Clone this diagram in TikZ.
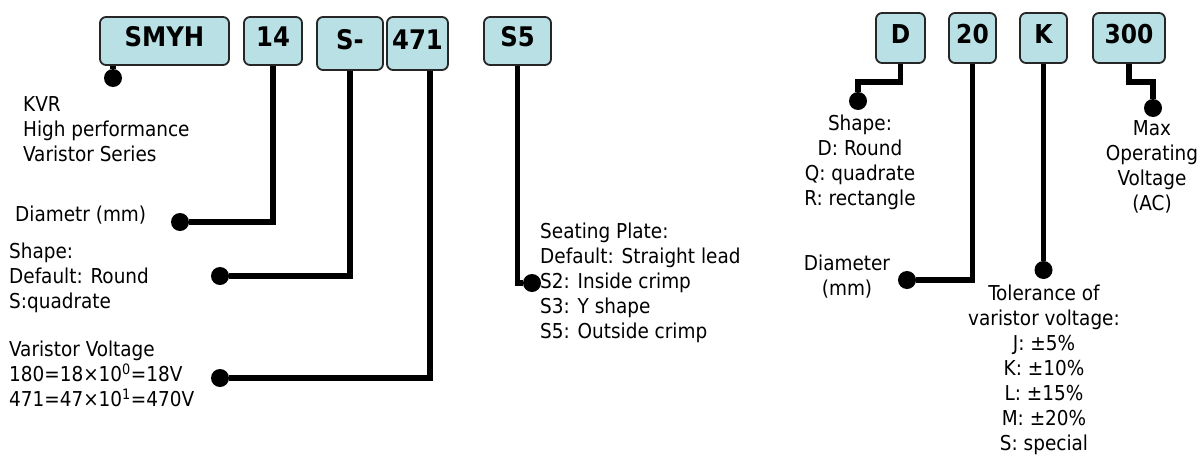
\documentclass[tikz,border=0pt]{standalone}
\usepackage{fontspec}
\setmainfont{DejaVu Sans Condensed}
\begin{document}
\begin{tikzpicture}[x=1pt,y=-1pt,
  codebox/.style={draw=black!85,line width=1.8pt,rounded corners=6pt,fill=boxfill,
    inner sep=0pt,text height=18pt,text depth=7pt,font=\fontsize{27}{30}\selectfont\bfseries},
  codeboxr/.style={codebox,font=\fontsize{26}{30}\selectfont\bfseries},
  conn/.style={line width=5.5pt},
  dot/.style={circle,fill=black,inner sep=0pt,minimum size=18pt},
  desc/.style={inner sep=0pt,font=\fontsize{20.5}{25}\selectfont}]
\definecolor{boxfill}{RGB}{185,224,228}
\useasboundingbox (0,0) rectangle (1201,458);
% code boxes left
\node[codebox,minimum width=129pt,minimum height=48pt] (bSMYH) at (164.5,41) {SMYH};
\node[codebox,minimum width=58pt,minimum height=48pt] (b14) at (273,41) {14};
\node[codebox,minimum width=66pt,minimum height=53pt] (bS) at (350,43.5) {S-};
\node[codebox,minimum width=61pt,minimum height=53pt] (b471) at (417.5,43.5) {471};
\node[codebox,minimum width=67pt,minimum height=48pt] (bS5) at (517.5,41) {S5};
% code boxes right
\node[codeboxr,minimum width=49pt,minimum height=50pt] (bD) at (900.5,38) {D};
\node[codeboxr,minimum width=47pt,minimum height=50pt] (b20) at (972.5,38) {20};
\node[codeboxr,minimum width=47pt,minimum height=50pt] (bK) at (1043.5,38) {K};
\node[codeboxr,minimum width=72pt,minimum height=50pt] (b300) at (1129,38) {300};
% dots
\node[dot] (d1) at (113,78) {};
\node[dot] (d2) at (180,222) {};
\node[dot] (d3) at (220,276) {};
\node[dot] (d4) at (220,378) {};
\node[dot] (d5) at (532,283) {};
\node[dot] (d6) at (858,101) {};
\node[dot] (d7) at (907,280) {};
\node[dot] (d8) at (1043.5,270) {};
\node[dot] (d9) at (1153,108) {};
\coordinate (c471) at (430,0);
% connectors
\draw[conn] (bSMYH.south -| d1) -- (d1);
\draw[conn] (b14.south) |- (d2);
\draw[conn] (bS.south) |- (d3);
\draw[conn] (b471.south -| c471) |- (d4);
\draw[conn] (bS5.south) |- (d5);
\draw[conn] (bD.south) -- (bD.south |- 0,82) -| (d6);
\draw[conn] (b20.south) |- (d7);
\draw[conn] (bK.south) -- (d8);
\draw[conn] (b300.south) -- (b300.south |- 0,82) -| (d9);
% descriptions left
\node[desc,anchor=west,align=left] (tKVR) at (23,128.7) {KVR\\High performance\\Varistor Series};
\node[desc,anchor=west,align=left] (tDia) at (15,215) {Diametr (mm)};
\node[desc,anchor=west,align=left] (tShape) at (9,277.7) {Shape:\\Default: Round\\S:quadrate};
\node[desc,anchor=west,align=left] (tVolt) at (9,374.3) {Varistor Voltage\\180=18×10\textsuperscript{0}=18V\\471=47×10\textsuperscript{1}=470V};
\node[desc,anchor=west,align=left] (tSeat) at (540,283) {Seating Plate:\\Default: Straight lead\\S2: Inside crimp\\S3: Y shape\\S5: Outside crimp};
% descriptions right
\node[desc,align=center] (tShapeR) at (860,162) {Shape:\\D: Round\\Q: quadrate\\R: rectangle};
\node[desc,align=center] (tDiaR) at (847,276.5) {Diameter\\(mm)};
\node[desc,align=center] (tTol) at (1044,370) {Tolerance of\\varistor voltage:\\J: ±5\%\\K: ±10\%\\L: ±15\%\\M: ±20\%\\S: special};
\node[desc,align=center] (tMax) at (1152,167) {Max\\Operating\\Voltage\\(AC)};
\end{tikzpicture}
\end{document}
